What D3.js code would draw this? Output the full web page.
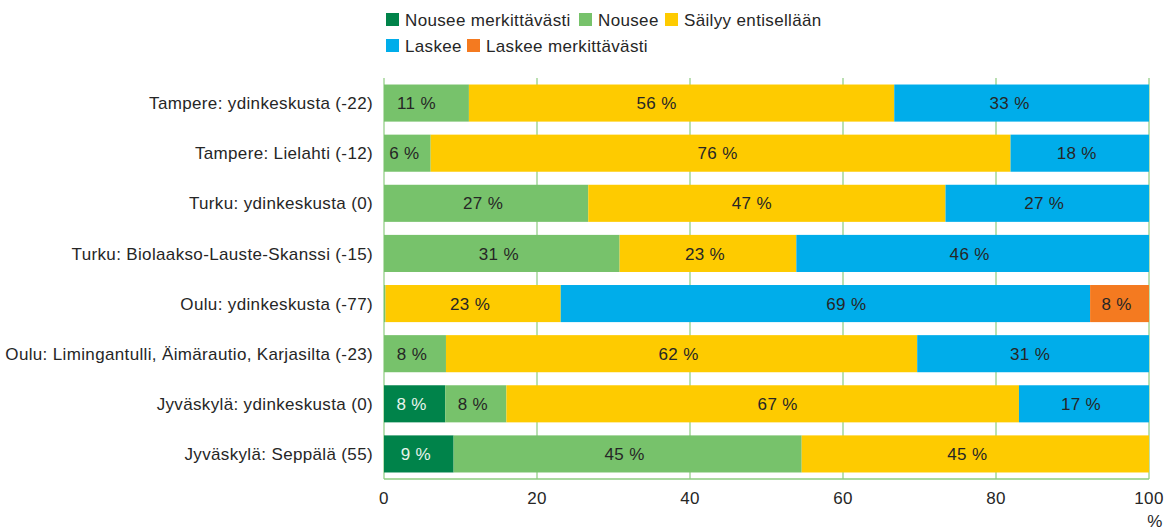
<!DOCTYPE html>
<html>
<head>
<meta charset="utf-8">
<script src="https://cdn.jsdelivr.net/npm/d3@7"></script>
<style>
  body { margin: 0; background: #fff; }
  svg { display: block; font-family: "Liberation Sans", Arial, sans-serif; letter-spacing: 0.35px; }
</style>
</head>
<body>
<svg id="chart"></svg>
<script>
// Categories (top to bottom)
const areas = [
  "Tampere: ydinkeskusta (-22)",
  "Tampere: Lielahti (-12)",
  "Turku: ydinkeskusta (0)",
  "Turku: Biolaakso-Lauste-Skanssi (-15)",
  "Oulu: ydinkeskusta (-77)",
  "Oulu: Limingantulli, Äimärautio, Karjasilta (-23)",
  "Jyväskylä: ydinkeskusta (0)",
  "Jyväskylä: Seppälä (55)"
];

const seriesNames = ["Nousee merkittävästi", "Nousee", "Säilyy entisellään", "Laskee", "Laskee merkittävästi"];
const seriesColors = ["#00834a", "#77c26b", "#fecb00", "#00adea", "#f47a20"];

// Values per series (%), same order as areas
const nouseeMerk = [0, 0, 0, 0, 0, 0, 8, 9.1];
const nousee     = [11.1, 6.1, 26.7, 30.8, 0.2, 8.1, 8, 45.5];
const sailyy     = [55.6, 75.8, 46.7, 23.1, 22.9, 61.6, 67, 45.4];
const laskee     = [33.3, 18.1, 26.6, 46.1, 69.2, 30.3, 17, 0];
const laskeeMerk = [0, 0, 0, 0, 7.7, 0, 0, 0];

// Printed labels per series
const labelsNouseeMerk = ["", "", "", "", "", "", "8 %", "9 %"];
const labelsNousee     = ["11 %", "6 %", "27 %", "31 %", "", "8 %", "8 %", "45 %"];
const labelsSailyy     = ["56 %", "76 %", "47 %", "23 %", "23 %", "62 %", "67 %", "45 %"];
const labelsLaskee     = ["33 %", "18 %", "27 %", "46 %", "69 %", "31 %", "17 %", ""];
const labelsLaskeeMerk = ["", "", "", "", "8 %", "", "", ""];

const xTicks = [0, 20, 40, 60, 80, 100];

const width = 1168, height = 530;
const margin = { top: 78, right: 19, bottom: 51, left: 384 };
const fontSize = 17;

// hand placement of a few labels in the original (row index -> series index -> px shift)
const labelNudge = { "0-1": -7, "0-2": -22, "0-3": -9, "2-2": -12, "4-3": 24, "6-2": 18, "7-2": -5 };

const svg = d3.select("#chart").attr("width", width).attr("height", height);

const x = d3.scaleLinear().domain([0, 100]).range([margin.left, width - margin.right]);
const y = d3.scaleBand().domain(areas).range([margin.top, height - margin.bottom]).paddingInner(0.26).paddingOuter(0.13);

const gridColor = "#8ccc7f";

// Vertical gridlines
svg.append("g")
  .selectAll("line")
  .data(xTicks)
  .join("line")
  .attr("x1", d => x(d)).attr("x2", d => x(d))
  .attr("y1", margin.top).attr("y2", height - margin.bottom)
  .attr("stroke", gridColor).attr("stroke-width", 1.2);

// Baseline
svg.append("line")
  .attr("x1", x(0)).attr("x2", x(100))
  .attr("y1", height - margin.bottom).attr("y2", height - margin.bottom)
  .attr("stroke", gridColor).attr("stroke-width", 1.5);

// Build stacked rows
const table = areas.map((a, i) => ({
  area: a,
  vals: [nouseeMerk[i], nousee[i], sailyy[i], laskee[i], laskeeMerk[i]],
  labels: [labelsNouseeMerk[i], labelsNousee[i], labelsSailyy[i], labelsLaskee[i], labelsLaskeeMerk[i]]
}));

const segments = [];
table.forEach((row, i) => {
  let acc = 0;
  row.vals.forEach((v, k) => {
    if (v > 0) segments.push({ area: row.area, row: i, k, x0: acc, x1: acc + v, label: row.labels[k] });
    acc += v;
  });
});

svg.append("g")
  .selectAll("rect")
  .data(segments)
  .join("rect")
  .attr("x", d => x(d.x0))
  .attr("y", d => y(d.area))
  .attr("width", d => x(d.x1) - x(d.x0))
  .attr("height", y.bandwidth())
  .attr("fill", d => seriesColors[d.k]);

svg.append("g")
  .selectAll("text")
  .data(segments.filter(d => d.label))
  .join("text")
  .attr("x", d => (x(d.x0) + x(d.x1)) / 2 - 3 + (labelNudge[d.row + "-" + d.k] || 0))
  .attr("y", d => y(d.area) + y.bandwidth() / 2)
  .attr("dy", "0.36em")
  .attr("text-anchor", "middle")
  .attr("font-size", fontSize)
  .attr("fill", d => d.k === 0 ? "#e8f4ec" : "#262626")
  .text(d => d.label);

// Category labels
svg.append("g")
  .selectAll("text")
  .data(areas)
  .join("text")
  .attr("x", margin.left - 11)
  .attr("y", d => y(d) + y.bandwidth() / 2)
  .attr("dy", "0.36em")
  .attr("text-anchor", "end")
  .attr("font-size", fontSize)
  .attr("fill", "#262626")
  .text(d => d);

// X tick labels
svg.append("g")
  .selectAll("text")
  .data(xTicks)
  .join("text")
  .attr("x", d => x(d))
  .attr("y", 504)
  .attr("text-anchor", "middle")
  .attr("font-size", fontSize)
  .attr("fill", "#262626")
  .text(d => d);

svg.append("text")
  .attr("x", x(100) + 6)
  .attr("y", 527)
  .attr("text-anchor", "middle")
  .attr("font-size", fontSize)
  .attr("fill", "#262626")
  .text("%");

// Legend
const legendPos = [
  { x: 386, y: 20 }, { x: 579, y: 20 }, { x: 665, y: 20 },
  { x: 386, y: 46 }, { x: 467, y: 46 }
];
const legend = svg.append("g")
  .selectAll("g")
  .data(seriesNames)
  .join("g")
  .attr("transform", (d, i) => `translate(${legendPos[i].x},${legendPos[i].y})`);

legend.append("rect")
  .attr("x", 0).attr("y", -7)
  .attr("width", 13).attr("height", 13)
  .attr("fill", (d, i) => seriesColors[i]);

legend.append("text")
  .attr("x", 19)
  .attr("y", 0)
  .attr("dy", "0.36em")
  .attr("font-size", fontSize)
  .attr("fill", "#262626")
  .text(d => d);
</script>
</body>
</html>
